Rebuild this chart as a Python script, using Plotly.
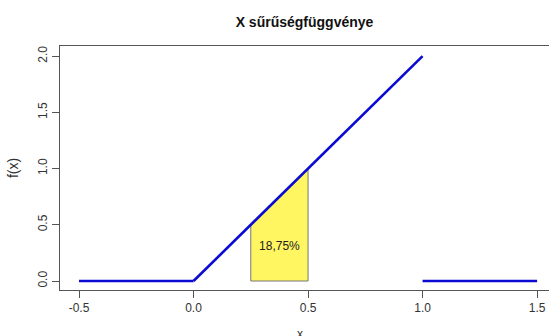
import plotly.graph_objects as go

# Density pieces of f(x) = 2x on [0,1]
left_x = [-0.5, 0.0]
left_y = [0.0, 0.0]
mid_x = [0.0, 1.0]
mid_y = [0.0, 2.0]
right_x = [1.0, 1.5]
right_y = [0.0, 0.0]

# Shaded area P(0.25 < X < 0.5)
area_x = [0.25, 0.25, 0.5, 0.5, 0.25]
area_y = [0.0, 0.5, 1.0, 0.0, 0.0]
area_label = "18,75%"
label_x = [0.375]
label_y = [0.3]

x_ticks = [-0.5, 0.0, 0.5, 1.0, 1.5]
x_tick_labels = ["-0.5", "0.0", "0.5", "1.0", "1.5"]
y_ticks = [0.0, 0.5, 1.0, 1.5, 2.0]
y_tick_labels = ["0.0", "0.5", "1.0", "1.5", "2.0"]

font = "Liberation Sans, Arial, sans-serif"
blue = "#0a0ad2"

fig = go.Figure()
fig.add_trace(go.Scatter(x=area_x, y=area_y, mode="lines", fill="toself",
                         fillcolor="#fff662", line=dict(color="#777777", width=1),
                         hoverinfo="skip"))
for xs, ys in [(left_x, left_y), (mid_x, mid_y), (right_x, right_y)]:
    fig.add_trace(go.Scatter(x=xs, y=ys, mode="lines",
                             line=dict(color=blue, width=2.6)))
fig.add_trace(go.Scatter(x=label_x, y=label_y, mode="text", text=[area_label],
                         textfont=dict(family=font, size=12, color="#222222")))

fig.add_annotation(text="x", xref="paper", yref="paper", x=0.49, y=0,
                   yshift=-44, yanchor="middle", showarrow=False,
                   font=dict(family=font, size=12, color="#333333"))

fig.update_layout(
    width=549, height=336,
    margin=dict(l=60, r=0, t=46, b=46, autoexpand=False),
    paper_bgcolor="white", plot_bgcolor="white",
    showlegend=False,
    font=dict(family=font, size=12, color="#333333"),
    title=dict(text="<b>X sűrűségfüggvénye</b>", x=0.5, xanchor="center",
               xref="paper", y=1 - 22 / 336, yanchor="middle",
               font=dict(family=font, size=14, color="#111111")),
    xaxis=dict(range=[-0.583, 1.552], tickvals=x_ticks, ticktext=x_tick_labels,
               showgrid=False, zeroline=False, showline=True, mirror=True,
               linecolor="#555555", linewidth=1, ticks="outside", ticklen=7,
               tickcolor="#555555", automargin=False, fixedrange=True),
    yaxis=dict(range=[-0.08, 2.09], tickvals=y_ticks, ticktext=y_tick_labels,
               showgrid=False, zeroline=False, showline=True, mirror=False,
               linecolor="#555555", linewidth=1, ticks="outside", ticklen=7,
               tickcolor="#555555", tickangle=-90,
               title=dict(text="f(x)", standoff=14), automargin=False,
               fixedrange=True),
)

fig.write_html("out.html", config={"displayModeBar": False},
               post_script="document.body.style.margin='0';")
